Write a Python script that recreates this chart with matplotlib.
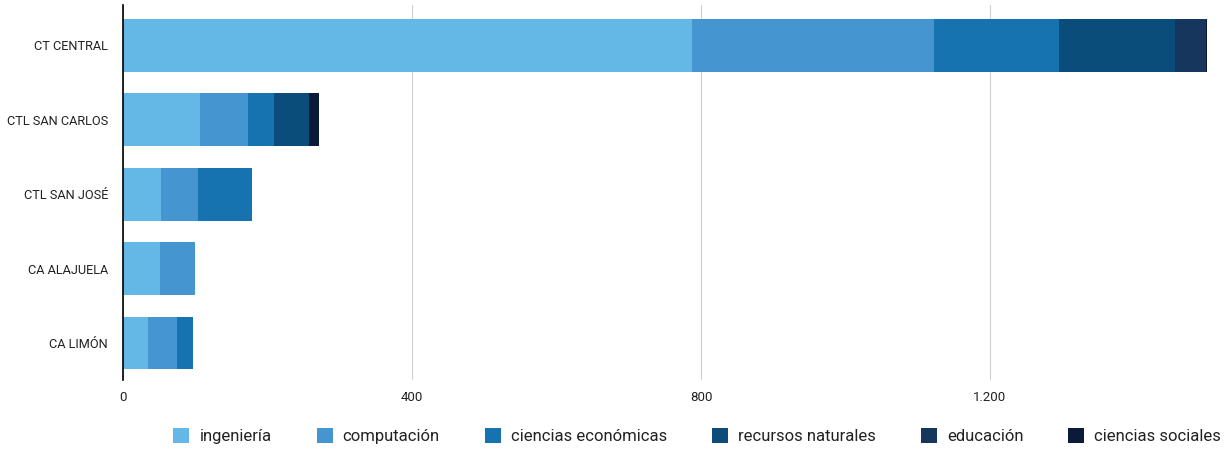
import numpy as np
import matplotlib.pyplot as plt
from matplotlib.ticker import FuncFormatter

plt.rcParams['font.family'] = ['Roboto', 'DejaVu Sans']

sedes = ['CT CENTRAL', 'CTL SAN CARLOS', 'CTL SAN JOSÉ', 'CA ALAJUELA', 'CA LIMÓN']
series = ['ingeniería', 'computación', 'ciencias económicas',
          'recursos naturales', 'educación', 'ciencias sociales']
ingenieria = [787, 107, 53, 51, 34]
computacion = [335, 66, 50, 49, 40]
economicas = [174, 36, 75, 0, 23]
recursos = [160, 48, 0, 0, 0]
educacion = [43, 0, 0, 0, 0]
sociales = [2, 14, 0, 0, 0]

colores = ['#63b8e6', '#4595d1', '#1772b0', '#0b4d7a', '#17365e', '#0a1a38']

datos = [ingenieria, computacion, economicas, recursos, educacion, sociales]

fig = plt.figure(figsize=(12.32, 4.5), dpi=100)
ax = fig.add_axes([0.1, 0.155, 0.88, 0.834])

y = np.arange(len(sedes))
left = np.zeros(len(sedes))
for nombre, vals, c in zip(series, datos, colores):
    vals = np.array(vals, dtype=float)
    ax.barh(y, vals, left=left, height=0.71, color=c, label=nombre, zorder=3)
    left += vals

ax.set_ylim(4.5, -0.54)
ax.set_xlim(0, left.max())
ax.set_yticks(y)
ax.set_yticklabels(sedes, fontsize=9.2, color='#222222')
ax.set_xticks([0, 400, 800, 1200])
ax.xaxis.set_major_formatter(FuncFormatter(lambda v, p: f'{int(v):,}'.replace(',', '.')))
ax.tick_params(axis='both', length=0, colors='#222222')
ax.tick_params(axis='x', pad=8, labelsize=9.5)
ax.tick_params(axis='y', pad=11)

ax.grid(axis='x', color='#d0d0d0', linewidth=0.8, zorder=0)
for s in ['top', 'right', 'bottom']:
    ax.spines[s].set_visible(False)
ax.spines['left'].set_color('black')
ax.spines['left'].set_linewidth(1.2)
ax.spines['left'].set_zorder(4)

fig.legend(loc='center', bbox_to_anchor=(0.566, 0.031), ncol=6, frameon=False,
           fontsize=12, handlelength=0.96, handleheight=0.96, handletextpad=0.6,
           columnspacing=2.7, labelcolor='#222222')

fig.savefig('out.png', dpi=100)
